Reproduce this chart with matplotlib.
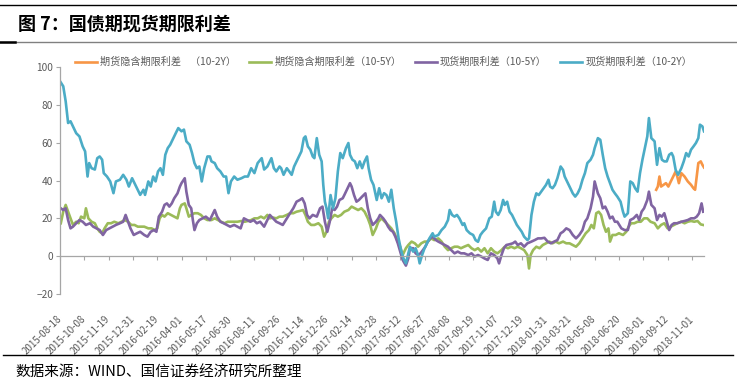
import matplotlib
matplotlib.use("Agg")
import matplotlib.pyplot as plt
from matplotlib.lines import Line2D

plt.rcParams['font.family'] = ['Noto Sans CJK SC', 'DejaVu Sans']

title = "图 7：国债期现货期限利差"
source = "数据来源：WIND、国信证券经济研究所整理"
series_names = ["期货隐含期限利差    （10-2Y）", "期货隐含期限利差（10-5Y）",
                "现货期限利差（10-5Y）", "现货期限利差（10-2Y）"]

tick_labels = ["2015-08-18", "2015-10-08", "2015-11-19", "2015-12-31", "2016-02-19",
               "2016-04-01", "2016-05-17", "2016-06-30", "2016-08-11", "2016-09-26",
               "2016-11-14", "2016-12-26", "2017-02-14", "2017-03-28", "2017-05-12",
               "2017-06-27", "2017-08-08", "2017-09-19", "2017-11-07", "2017-12-19",
               "2018-01-31", "2018-03-21", "2018-05-08", "2018-06-20", "2018-08-01",
               "2018-09-12", "2018-11-01"]
tick_step = 30  # trading days between labelled categories
n_days = 796

# 现货期限利差（10-2Y）: trading-day index, value (bp)
spot_2y_day = [0, 4, 7, 10, 13, 16, 20, 24, 28, 31, 34, 36, 39, 43, 46, 49, 52, 54, 58, 62,
               66, 69, 74, 78, 82, 85, 89, 93, 96, 99, 103, 105, 109, 112, 115, 118, 121, 124, 127, 130,
               133, 136, 139, 143, 146, 150, 153, 156, 160, 163, 166, 169, 172, 175, 178, 182, 185, 187, 191, 194,
               198, 202, 205, 208, 211, 215, 219, 224, 228, 232, 236, 240, 244, 249, 252, 256,
               259, 261, 264, 267, 271, 273, 276, 280, 283, 286, 289, 292, 295, 298, 301, 303, 306, 309, 312, 314,
               317, 320, 323, 325, 327, 329, 331, 334, 337, 340, 343, 346, 349, 353, 356, 358, 361, 364, 367, 370,
               373, 376, 379, 381, 384, 387, 391, 394, 397, 400, 403, 406, 409, 412, 415, 418, 421, 424, 427, 430,
               432, 436, 439, 442, 444, 447, 450, 453, 456, 460, 462, 467, 471, 475, 479, 481, 484, 487, 490, 493,
               497, 499, 502, 506, 510, 513, 516, 519, 522,
               526, 530, 533, 536, 538, 541, 544, 547, 549, 552, 555, 558, 561, 564, 567, 570, 573, 577, 579, 582,
               585, 588, 591, 594, 597, 600, 603, 605, 608, 611, 614, 618, 621, 623, 627, 630, 633, 636, 639, 642,
               645, 648, 651, 655, 658, 660, 664, 667, 670, 673, 676, 679, 682, 685, 688, 692, 695, 697, 701, 704,
               707, 710, 713, 716, 719, 722, 725, 727, 730, 734, 737, 740, 743, 746, 749, 752, 755, 757, 760, 763,
               767, 770, 773, 776, 779, 782, 785, 788, 790, 793, 795]
spot_2y_val = [92.5, 89.8, 81.9, 70.4, 71.3, 68.6, 65.0, 63.3, 58.0, 55.4, 42.1, 49.2, 46.5, 45.8, 51.8, 52.7, 51.0, 43.9, 42.1, 39.5,
               33.3, 39.5, 40.4, 43.0, 40.4, 36.8, 41.2, 37.7, 35.1, 32.4, 35.1, 32.4, 39.5, 36.8, 42.1, 39.5, 44.8, 46.5, 43.0, 53.6,
               57.1, 58.9, 61.6, 65.1, 67.7, 66.0, 66.9, 60.7, 58.9, 54.5, 49.2, 46.5, 47.4, 39.5, 46.5, 52.7, 52.7, 50.1, 49.2, 46.5,
               44.8, 42.1, 42.1, 33.3, 39.5, 42.1, 40.4, 41.2, 42.1, 42.1, 46.5, 43.9, 49.2, 51.8, 45.8, 47.4,
               50.1, 51.8, 46.5, 44.8, 47.4, 46.5, 43.0, 46.5, 44.8, 43.0, 47.4, 50.1, 52.7, 55.4, 62.4, 63.3, 58.0, 56.3, 52.7, 51.8,
               62.4, 53.6, 50.1, 37.7, 28.8, 25.3, 20.0, 32.3, 25.3, 30.6, 44.8, 54.5, 51.8, 57.1, 59.8, 53.6, 51.0, 50.1, 46.5, 50.1,
               46.5, 50.1, 52.7, 46.5, 40.4, 37.7, 29.7, 35.9, 30.6, 33.3, 32.3, 28.8, 35.1, 25.3, 18.2, 9.4, 3.2, -1.2, -3.8, 1.5,
               5.0, 2.4, 4.2, 0.6, -3.8, 0.6, 4.2, 6.8, 9.4, 12.1, 10.3, 11.2, 13.8, 15.6, 19.1, 24.4, 21.8, 20.9, 21.8, 20.0,
               16.5, 17.4, 13.8, 12.1, 11.2, 8.5, 7.6, 11.2, 12.9,
               14.7, 20.0, 20.9, 28.8, 23.5, 21.8, 24.4, 29.7, 27.1, 28.8, 23.5, 21.8, 19.1, 16.5, 14.7, 12.9, 10.3, 8.5, 9.4, 21.8,
               28.8, 33.2, 32.3, 34.1, 35.9, 37.7, 40.4, 36.8, 35.9, 37.7, 41.2, 47.4, 45.6, 42.1, 38.6, 35.9, 33.2, 31.5, 33.2, 35.9,
               40.4, 43.9, 49.2, 51.0, 53.6, 57.1, 62.4, 61.5, 53.6, 46.5, 42.1, 38.6, 35.1, 33.2, 31.5, 28.8, 23.5, 20.9, 22.7, 39.5,
               38.6, 35.9, 34.1, 43.9, 51.0, 57.1, 63.3, 73.0, 62.4, 60.7, 48.3, 57.1, 51.0, 50.1, 50.1, 53.6, 54.5, 52.7, 45.6, 43.0,
               46.5, 50.1, 54.5, 52.7, 56.3, 58.0, 59.8, 62.4, 69.5, 68.6, 66.0]

# 现货期限利差（10-5Y）
spot_5y_day = [1, 4, 7, 10, 13, 16, 20, 24, 28, 32, 37, 41, 45, 49, 53, 57, 61, 65, 69, 74,
               78, 81, 84, 87, 91, 95, 99, 104, 108, 112, 116, 119, 122, 126, 129, 132, 135, 138, 141, 145,
               148, 150, 154, 156, 159, 162, 164, 166, 169, 172, 176, 180, 185, 187, 191, 194, 198, 202, 206, 210,
               215, 219, 223, 227, 231, 235, 239, 243, 247, 252, 256,
               259, 263, 267, 271, 275, 280, 284, 288, 292, 296, 299, 302, 305, 308, 312, 317, 321, 324, 327, 330,
               333, 336, 339, 342, 345, 349, 351, 354, 358, 360, 363, 366, 369, 373, 377, 380, 383, 386, 390, 393,
               395, 399, 402, 405, 408, 411, 414, 417, 420, 423, 427, 430, 432, 436, 439, 442, 445, 448, 451, 454,
               457, 460, 464, 467, 471, 475, 479, 483, 487, 491, 495, 499, 504, 508, 512, 516, 520, 524, 528,
               532, 536, 540, 542, 545, 548, 551, 555, 559, 562, 565, 569, 573, 577, 582, 586, 590, 594, 598, 602,
               606, 610, 614, 618, 621, 625, 629, 633, 637, 641, 645, 648, 651, 655, 658, 660, 664, 667, 670, 673,
               676, 679, 682, 685, 688, 693, 697, 701, 704, 708, 712, 715, 718, 721, 725, 727, 730, 734, 737, 740,
               743, 746, 749, 752, 755, 758, 762, 767, 771, 775, 779, 783, 786, 789, 792, 794]
spot_5y_val = [25.3, 24.4, 25.3, 19.1, 14.7, 15.6, 17.4, 19.1, 18.2, 16.5, 17.4, 15.6, 14.7, 13.8, 11.2, 13.8, 14.7, 15.6, 16.5, 17.4,
               18.2, 21.8, 18.2, 14.7, 11.2, 12.1, 12.9, 11.2, 10.3, 12.9, 13.8, 12.9, 20.9, 23.5, 27.1, 27.9, 26.2, 27.9, 30.6, 33.2,
               36.8, 38.6, 41.2, 34.1, 27.1, 25.3, 19.1, 13.8, 17.4, 19.1, 20.0, 20.9, 19.1, 20.9, 24.4, 20.9, 18.2, 17.4, 16.5, 15.6,
               16.5, 15.6, 14.7, 20.0, 19.1, 18.2, 19.1, 17.4, 18.2, 15.6, 19.1,
               21.8, 20.0, 18.2, 17.4, 16.5, 20.0, 22.7, 25.3, 28.8, 29.7, 30.6, 27.9, 21.8, 20.0, 21.8, 20.9, 25.3, 26.2, 18.2, 12.9,
               18.2, 25.3, 24.4, 26.2, 29.7, 30.6, 32.3, 35.0, 38.6, 36.8, 32.3, 28.8, 29.7, 31.5, 33.2, 25.3, 20.0, 16.5, 18.2, 20.0,
               21.8, 20.0, 18.2, 15.6, 13.8, 12.9, 10.3, 6.8, 2.4, -2.0, -5.0, -1.2, 4.2, 4.2, 1.5, 0.6, 1.5, 3.2, 5.0, 7.7,
               9.4, 10.3, 8.5, 7.7, 6.8, 5.9, 5.0, 3.2, 1.5, 2.4, 1.5, 1.5, 0.6, 1.5, -0.2, 0.6, -0.2, -1.2, -2.0,
               1.5, 0.6, -1.2, -3.8, 0.6, 4.2, 5.9, 6.3, 6.8, 7.7, 5.9, 6.8, 5.0, 6.8, 7.7, 8.5, 9.4, 9.4, 9.7, 7.7,
               6.8, 7.7, 8.5, 12.1, 12.9, 14.7, 13.8, 11.2, 9.4, 11.2, 13.8, 18.2, 20.0, 25.3, 31.5, 39.5, 33.2, 30.6, 25.3, 26.2,
               23.5, 20.0, 20.9, 18.2, 18.2, 14.7, 13.8, 13.8, 19.1, 20.0, 21.8, 19.1, 23.5, 25.3, 29.7, 34.1, 27.1, 25.3, 19.1, 21.8,
               20.9, 22.7, 18.2, 13.8, 16.5, 17.4, 17.4, 18.2, 18.6, 19.1, 20.0, 20.0, 20.9, 22.7, 27.9, 23.5]

# 期货隐含期限利差（10-5Y）
fut_5y_day = [1, 4, 7, 10, 13, 16, 20, 23, 26, 30, 32, 35, 39, 43, 46, 49, 52, 55, 59, 63,
              67, 72, 76, 80, 84, 88, 92, 96, 100, 104, 109, 113, 117, 120, 123, 126, 129, 133, 137, 141,
              145, 148, 150, 154, 156, 159, 162, 166, 170, 174, 178, 182, 187, 191, 195, 199, 203, 207, 211, 215,
              219, 224, 228, 232, 236, 240, 244, 248, 252, 256,
              259, 263, 267, 271, 275, 280, 284, 288, 292, 296, 300, 303, 306, 310, 314, 319, 323, 326, 329, 332,
              335, 339, 343, 347, 351, 356, 360, 364, 368, 372, 376, 380, 383, 386, 390, 393, 397, 401, 405, 409,
              413, 417, 420, 423, 427, 430, 434, 438, 442, 446, 450, 454, 458, 462, 467, 471, 475, 479, 483, 487,
              491, 495, 499, 504, 508, 512, 516, 520,
              524, 528, 532, 536, 540, 545, 549, 553, 557, 561, 565, 569, 573, 577, 579, 581, 584, 588, 592, 596,
              600, 604, 608, 612, 616, 621, 625, 629, 633, 637, 641, 645, 649, 653, 656, 659, 662, 665, 668, 671,
              674, 677, 679, 682, 686, 690, 695, 699, 702, 705, 709, 713, 717, 721, 725, 729, 734, 738, 742, 746,
              750, 754, 758, 762, 767, 771, 775, 779, 783, 787, 791, 794]
fut_5y_val = [17.4, 23.5, 27.1, 23.5, 20.0, 16.5, 18.2, 17.4, 20.9, 20.0, 25.3, 20.0, 18.2, 17.4, 14.7, 12.9, 12.1, 14.7, 17.4, 17.4,
              18.2, 17.4, 18.2, 19.1, 18.2, 16.5, 16.5, 15.6, 15.6, 15.6, 14.7, 14.7, 13.8, 14.7, 20.0, 21.8, 20.9, 22.7, 21.8, 20.9,
              20.0, 25.3, 27.1, 27.9, 25.3, 20.9, 21.8, 22.7, 22.7, 21.8, 20.0, 19.1, 19.1, 20.0, 19.1, 18.2, 17.4, 18.2, 18.2, 18.2,
              18.2, 18.6, 18.2, 18.6, 19.1, 20.0, 20.0, 20.9, 20.0, 21.8,
              20.0, 20.4, 20.0, 20.9, 20.9, 21.8, 22.7, 22.7, 23.5, 23.9, 24.4, 21.8, 18.2, 16.5, 16.5, 17.4, 15.6, 10.3, 12.9, 18.2,
              20.0, 21.8, 20.9, 21.8, 23.5, 24.4, 26.2, 25.3, 24.4, 25.3, 23.5, 20.0, 16.5, 11.2, 14.7, 18.2, 20.0, 18.2, 16.5, 14.7,
              12.1, 7.7, 5.0, 0.6, 4.2, 5.9, 7.7, 6.8, 5.0, 6.8, 7.7, 7.7, 9.4, 8.5, 9.4, 7.7, 5.0, 3.2, 4.2, 5.0,
              5.0, 4.2, 5.0, 5.9, 4.2, 3.2, 4.2, 2.4,
              4.2, 1.5, 4.2, 2.4, 1.5, 3.2, 5.0, 4.2, 5.0, 4.2, 5.0, 4.2, 3.2, 0.6, -6.5, 0.6, 3.2, 5.0, 4.2, 5.9,
              6.8, 7.7, 6.8, 7.7, 6.8, 7.7, 6.8, 6.8, 5.9, 5.0, 6.8, 9.4, 12.1, 13.8, 16.5, 14.7, 22.7, 23.5, 21.8, 16.5,
              12.9, 14.7, 7.7, 11.2, 11.2, 12.1, 11.2, 12.9, 15.6, 17.4, 17.4, 18.2, 18.2, 20.0, 20.0, 18.2, 17.4, 14.7, 16.5, 17.4,
              14.7, 15.6, 16.5, 17.4, 18.2, 17.4, 18.2, 18.6, 18.2, 18.6, 16.8, 16.5]

# 期货隐含期限利差（10-2Y）
fut_2y_day = [736, 738, 740, 742, 745, 748, 751, 754, 757, 760, 762, 764, 767, 771, 775, 779, 782, 784, 786, 788,
              791, 793, 795]
fut_2y_val = [35.1, 36.8, 42.1, 36.8, 37.7, 38.6, 36.8, 39.5, 42.1, 44.8, 42.1, 38.6, 43.9, 42.1, 39.5, 37.7, 35.9, 35.1, 42.1, 49.2,
              50.1, 48.3, 46.9]

colors = ["#F79646", "#9BBB59", "#8064A2", "#4BACC6"]
text_gray = "#595959"
axis_gray = "#A6A6A6"

fig = plt.figure(figsize=(7.37, 3.85), dpi=100)
ax = fig.add_axes([60 / 737, 1 - 294 / 385, 644 / 737, 227 / 385])

series = [(fut_2y_day, fut_2y_val), (fut_5y_day, fut_5y_val),
          (spot_5y_day, spot_5y_val), (spot_2y_day, spot_2y_val)]
handles = []
for (d, v), c, name in zip(series, colors, series_names):
    h, = ax.plot(d, v, color=c, lw=1.9, solid_joinstyle='round', label=name)
    handles.append(h)

ax.set_xlim(0, n_days - 1)
ax.set_ylim(-20, 100)
ax.set_yticks(range(-20, 101, 20))
ax.tick_params(axis='y', direction='out', length=3, color=axis_gray, labelsize=7.3, labelcolor=text_gray, pad=2)

tick_pos = [i * tick_step for i in range(len(tick_labels))]
ax.set_xticks(tick_pos)
ax.tick_params(axis='x', direction='out', length=3, color=axis_gray, labelbottom=False)
ax.spines['bottom'].set_position(('data', 0))
for s in ['top', 'right']:
    ax.spines[s].set_visible(False)
for s in ['left', 'bottom']:
    ax.spines[s].set_color(axis_gray)
    ax.spines[s].set_linewidth(0.9)

secax = ax.secondary_xaxis(0)
secax.spines['bottom'].set_visible(False)
secax.set_xticks(tick_pos)
secax.set_xticklabels(tick_labels, rotation=45, ha='right', va='center', rotation_mode='anchor')
secax.tick_params(axis='x', length=0, pad=17, labelsize=7, labelcolor=text_gray)

fig.legend(handles=handles, loc='center', bbox_to_anchor=(0.52, 1 - 62 / 385), ncol=4,
           frameon=False, fontsize=7.3, labelcolor=text_gray, handlelength=2.2,
           handletextpad=0.3, columnspacing=1.3)

fig.text(18 / 737, 1 - 24 / 385, title, fontsize=13, fontweight='bold', va='center', ha='left', color='black')
fig.text(15 / 737, 1 - 373 / 385, source, fontsize=10.5, va='center', ha='left', color='black')

fig.add_artist(Line2D([0, 1], [1 - 4.5 / 385] * 2, color='black', lw=1.0, transform=fig.transFigure))
fig.add_artist(Line2D([0, 1], [1 - 41.5 / 385] * 2, color='#808080', lw=1.0, transform=fig.transFigure))
fig.add_artist(Line2D([0, 15 / 737], [1 - 41.5 / 385] * 2, color='black', lw=1.8, transform=fig.transFigure))
fig.add_artist(Line2D([3 / 737, 733 / 737], [1 - 355 / 385] * 2, color='black', lw=1.0, transform=fig.transFigure))

fig.savefig("out.png", dpi=100)
